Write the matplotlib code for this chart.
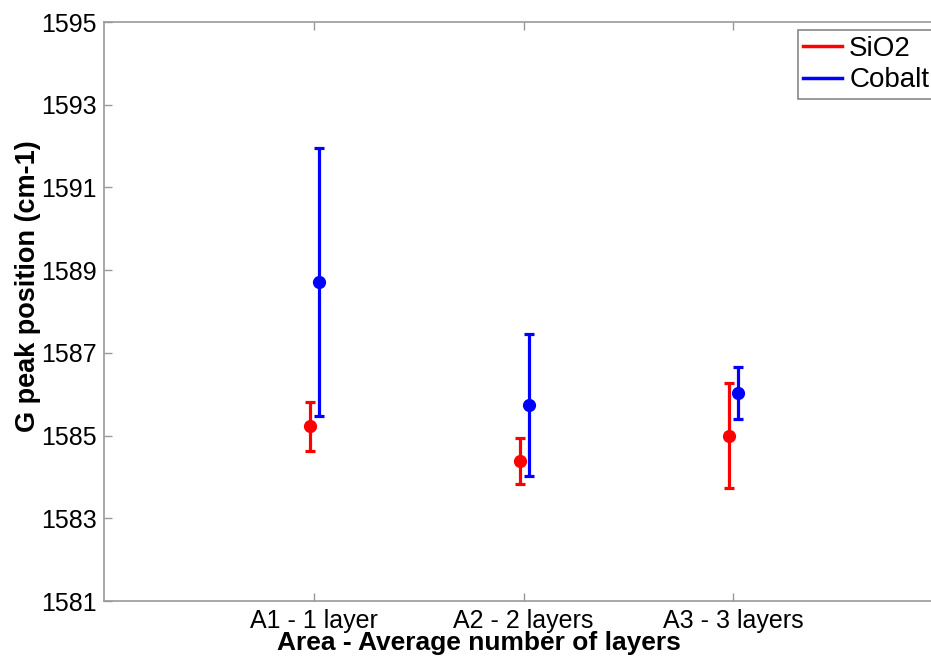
import matplotlib.pyplot as plt
import numpy as np

plt.rcParams['font.family'] = ['Liberation Sans', 'DejaVu Sans']

# data
areas = ['A1 - 1 layer', 'A2 - 2 layers', 'A3 - 3 layers']
sio2_mean = [1585.22, 1584.39, 1585.00]
sio2_err = [0.59, 0.56, 1.27]
cobalt_mean = [1588.71, 1585.74, 1586.02]
cobalt_err = [3.24, 1.72, 0.63]

x = np.arange(1, len(areas) + 1)

fig = plt.figure(figsize=(9.31, 6.57), dpi=100)
# right edge of the axes runs past the figure, as in the reference
ax = fig.add_axes([0.1117, 0.0852, 0.9012, 0.8813])

ax.errorbar(x - 0.018, sio2_mean, yerr=sio2_err, fmt='o', color='#ff0000',
            ms=8.5, elinewidth=2.3, capsize=3.5, capthick=2.3, label='SiO2')
ax.errorbar(x + 0.024, cobalt_mean, yerr=cobalt_err, fmt='o', color='#0000ff',
            ms=8.5, elinewidth=2.3, capsize=3.5, capthick=2.3, label='Cobalt')

ax.set_xlim(0, 4)
ax.set_ylim(1581, 1595)
ax.set_xticks(x)
ax.set_xticklabels(areas)
ax.set_yticks(np.arange(1581, 1596, 2))

ax.tick_params(direction='in', top=True, right=True, length=6, width=1,
               color='#999999', labelsize=18)
ax.tick_params(axis='x', pad=6)
ax.tick_params(axis='y', pad=5)
for s in ax.spines.values():
    s.set_color('#999999')
    s.set_linewidth(1.2)

ax.set_xlabel('Area - Average number of layers', fontsize=19, fontweight='bold')
ax.xaxis.set_label_coords(0.447, -0.052)
ax.set_ylabel('G peak position (cm-1)', fontsize=19.5, fontweight='bold')
ax.yaxis.set_label_coords(-0.075, 0.544)

# legend handles as plain lines
h1, = ax.plot([], [], color='#ff0000', lw=2.5)
h2, = ax.plot([], [], color='#0000ff', lw=2.5)
leg = ax.legend([h1, h2], ['SiO2', 'Cobalt'], loc='upper left',
                bbox_to_anchor=(0.827, 0.986), fontsize=20, fancybox=False,
                framealpha=1, edgecolor='#888888', handlelength=1.4,
                handletextpad=0.25, borderpad=0.2, labelspacing=0.2,
                borderaxespad=0)
leg.get_frame().set_linewidth(1.2)

fig.savefig('out.png', dpi=100)
